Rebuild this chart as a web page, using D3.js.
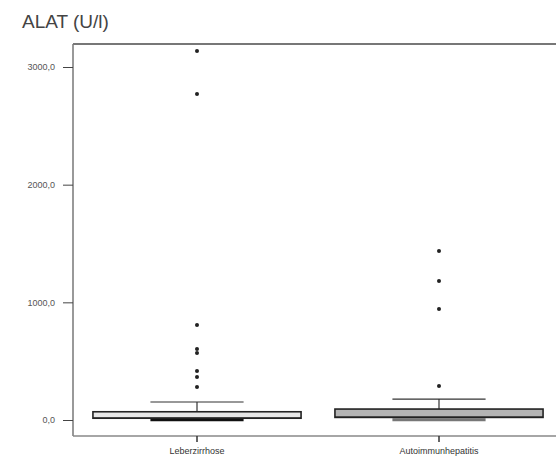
<!DOCTYPE html>
<html>
<head>
<meta charset="utf-8">
<script src="https://cdn.jsdelivr.net/npm/d3@7"></script>
<style>
  body { margin: 0; background: #fff; }
  svg { display: block; font-family: "Liberation Sans", Arial, sans-serif; }
</style>
</head>
<body>
<svg id="chart" width="556" height="462"></svg>
<script>
// values (U/l)
var categories = ["Leberzirrhose", "Autoimmunhepatitis"];
var whiskerLow = [2, 2];
var q1 = [15, 22];
var median = [18, 26];
var q3 = [70, 93];
var whiskerHigh = [153, 178];
var outliers = [
  [3135, 2770, 807, 603, 569, 416, 365, 280],
  [1436, 1181, 943, 289]
];
var yTicks = [0, 1000, 2000, 3000];
var boxFill = ["#e6e6e6", "#b4b4b4"];
var lowColor = ["#111", "#777"];

var svg = d3.select("#chart");
var frame = {left: 73, top: 44, right: 556, bottom: 436};

var x = d3.scaleBand().domain(categories).range([76, 560]).paddingInner(0);
var y = d3.scaleLinear().domain([0, 3000]).range([420, 67]);

// title
svg.append("text")
  .attr("x", 22).attr("y", 28)
  .attr("font-size", 19)
  .attr("fill", "#444")
  .text("ALAT (U/l)");

// frame lines
svg.append("line").attr("x1", frame.left).attr("x2", frame.right)
  .attr("y1", frame.top).attr("y2", frame.top)
  .attr("stroke", "#777").attr("stroke-width", 2);
svg.append("line").attr("x1", frame.left).attr("x2", frame.left)
  .attr("y1", frame.top).attr("y2", frame.bottom)
  .attr("stroke", "#777").attr("stroke-width", 1.5);
svg.append("line").attr("x1", frame.left).attr("x2", frame.right)
  .attr("y1", frame.bottom).attr("y2", frame.bottom)
  .attr("stroke", "#888").attr("stroke-width", 1.5);

// y axis
var yAxis = svg.append("g").attr("transform", "translate(" + frame.left + ",0)")
  .call(d3.axisLeft(y).tickValues(yTicks).tickSize(10).tickPadding(8)
    .tickFormat(function(d) { return d3.format(".1f")(d).replace(".", ","); }));
yAxis.select(".domain").remove();
yAxis.selectAll("line").attr("stroke", "#444");
yAxis.selectAll("text").attr("font-size", 9).attr("fill", "#555")
  .attr("font-family", "'Liberation Sans', Arial, sans-serif");

// x axis
var xAxis = svg.append("g").attr("transform", "translate(0," + frame.bottom + ")")
  .call(d3.axisBottom(x).tickSize(6).tickPadding(6));
xAxis.select(".domain").remove();
xAxis.selectAll("line").attr("stroke", "#333").attr("stroke-width", 1.5);
xAxis.selectAll("text").attr("font-size", 9).attr("fill", "#333")
  .attr("font-family", "'Liberation Sans', Arial, sans-serif");

var bw = x.bandwidth();
var boxW = bw * 0.86, whW = bw * 0.385;

categories.forEach(function(c, i) {
  var cx = x(c) + bw / 2;
  var g = svg.append("g");

  // lower whisker (sits right under the box)
  g.append("line")
    .attr("x1", cx - whW / 2).attr("x2", cx + whW / 2)
    .attr("y1", y(whiskerLow[i])).attr("y2", y(whiskerLow[i]))
    .attr("stroke", lowColor[i]).attr("stroke-width", 3);

  // upper whisker
  g.append("line")
    .attr("x1", cx).attr("x2", cx)
    .attr("y1", y(q3[i])).attr("y2", y(whiskerHigh[i]))
    .attr("stroke", "#333").attr("stroke-width", 1.2);
  g.append("line")
    .attr("x1", cx - whW / 2).attr("x2", cx + whW / 2)
    .attr("y1", y(whiskerHigh[i])).attr("y2", y(whiskerHigh[i]))
    .attr("stroke", "#333").attr("stroke-width", 1.2);

  // box
  g.append("rect")
    .attr("x", cx - boxW / 2).attr("width", boxW)
    .attr("y", y(q3[i])).attr("height", y(q1[i]) - y(q3[i]))
    .attr("fill", boxFill[i]).attr("stroke", "#222").attr("stroke-width", 1.6);
  g.append("line")
    .attr("x1", cx - boxW / 2).attr("x2", cx + boxW / 2)
    .attr("y1", y(median[i])).attr("y2", y(median[i]))
    .attr("stroke", "#222").attr("stroke-width", 1);

  // outliers / extremes
  g.selectAll("circle").data(outliers[i]).enter().append("circle")
    .attr("cx", cx).attr("cy", function(d) { return y(d); })
    .attr("r", 2).attr("fill", "#222");
});
</script>
</body>
</html>
